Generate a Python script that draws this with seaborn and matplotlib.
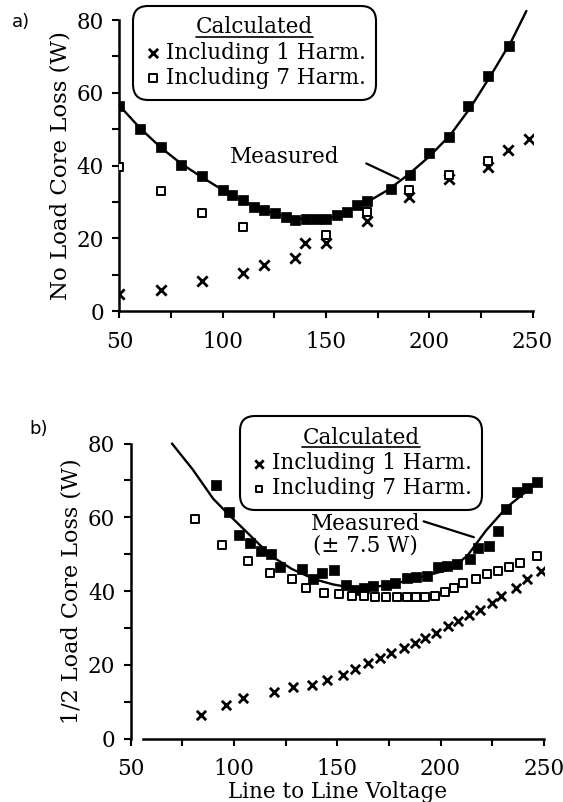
import matplotlib
matplotlib.use("Agg")
import matplotlib.pyplot as plt
import seaborn as sns
import pandas as pd
from matplotlib.lines import Line2D

# ---- panel a) no load ----
a_meas_v = [50, 60, 70, 80, 90, 100, 104.5, 110, 115, 120, 125.5, 130.5, 135, 140.5,
            145, 150, 155.5, 160, 165, 170, 181.5, 190.5, 200, 209.5, 218.5, 228.5, 238.5]
a_meas_w = [56.5, 50.1, 45.1, 40.3, 37.2, 33.4, 31.9, 30.5, 28.7, 27.8, 26.9, 25.8, 25.1, 25.2,
            25.2, 25.2, 26.4, 27.2, 29.2, 30.2, 33.5, 37.4, 43.6, 47.8, 56.5, 64.7, 72.9]
a_curve_v = [50, 60, 70, 80, 90, 100, 110, 120, 130, 140, 150, 160, 170, 180, 190, 200,
             210, 220, 230, 240, 247]
a_curve_w = [56.5, 50.3, 45.0, 40.5, 36.8, 33.3, 30.3, 27.8, 26.0, 25.2, 25.3, 27.0, 30.0, 33.3,
             37.6, 42.5, 48.3, 56.0, 65.0, 74.5, 82.5]
a_h1_v = [50, 70, 90, 110, 120, 135, 140, 150, 170, 190, 209.5, 228.5, 238, 248.5]
a_h1_w = [4.6, 5.9, 8.2, 10.5, 12.6, 14.6, 18.7, 18.7, 24.8, 31.4, 36.3, 39.6, 44.2, 47.4]
a_h7_v = [50, 70, 90, 110, 150, 170, 190, 209.5, 228.5]
a_h7_w = [39.6, 33.1, 27.1, 23.1, 21.0, 27.3, 33.3, 37.5, 41.3]

# ---- panel b) half load ----
b_meas_v = [91.3, 97.4, 102.3, 107.9, 113.1, 118, 122.2, 132.9, 138.5, 142.8, 148.6, 154.2,
            158.6, 162.9, 167.3, 173.4, 177.8, 183.9, 188.3, 193.5, 198.8, 203.1, 207.9,
            214.2, 218, 223.3, 227.6, 231.6, 237.2, 241.6, 246.9]
b_meas_w = [68.8, 61.4, 55.2, 53.0, 50.9, 50.0, 46.4, 45.9, 43.2, 45.0, 45.6, 41.6,
            40.2, 40.9, 41.4, 41.6, 42.1, 43.5, 43.8, 44.1, 46.4, 46.8, 47.3,
            48.6, 51.8, 52.3, 56.2, 62.3, 66.8, 67.9, 69.5]
b_curve_v = [70, 80, 90, 97, 108, 118, 128, 139, 148, 159, 175, 192, 205, 213, 222, 232, 247]
b_curve_w = [80.0, 73.0, 65.0, 61.0, 55.0, 49.5, 46.0, 43.2, 41.8, 40.7, 41.6, 44.0, 46.0,
             49.6, 56.4, 62.7, 69.5]
b_h1_v = [83.9, 96, 104.4, 119.2, 128.8, 137.6, 145.1, 153, 158.6, 164.7, 170.8, 176,
          182.2, 187.4, 192.7, 197.9, 203.7, 208.4, 213.6, 218.9, 225, 229.4, 236.4, 241.6, 248.6]
b_h1_w = [6.4, 9.1, 10.9, 12.7, 14.1, 14.5, 15.9, 17.3, 18.8, 20.5, 21.8, 23.2,
          24.5, 25.9, 27.3, 28.6, 30.5, 31.8, 33.6, 35.0, 36.8, 38.6, 40.9, 43.2, 45.5]
b_h7_v = [81.3, 94.2, 107, 117.5, 128, 135, 143.7, 150.7, 157.2, 162.9, 168.2, 173.4,
          178.7, 183.9, 188.3, 192.7, 197.4, 202.3, 206.6, 211, 217.1, 222.4, 227.6,
          232.9, 238.6, 246.9]
b_h7_w = [59.5, 52.5, 48.2, 45.0, 43.2, 40.9, 39.5, 39.1, 38.6, 38.6, 38.4, 38.4,
          38.4, 38.4, 38.4, 38.4, 38.6, 39.7, 40.9, 42.1, 43.2, 44.5, 45.5,
          46.4, 47.7, 49.5]

lbl_h1 = "Including 1 Harm."
lbl_h7 = "Including 7 Harm."

sns.set_style("ticks")
plt.rcParams['font.family'] = ['DejaVu Serif']
plt.rcParams['font.size'] = 15
for k in ['text.color', 'axes.labelcolor', 'xtick.color', 'ytick.color', 'axes.edgecolor']:
    plt.rcParams[k] = 'black'

fig = plt.figure(figsize=(5.63, 8.02), dpi=100)
ax1 = fig.add_axes([0.212, 0.612, 0.734, 0.363])
ax2 = fig.add_axes([0.232, 0.079, 0.734, 0.368])


def draw_panel(ax, cv, cw, mv, mw, h1v, h1w, h7v, h7w, msz):
    sns.lineplot(x=cv, y=cw, ax=ax, color='black', lw=1.7, sort=False,
                 estimator=None, clip_on=False)
    sns.scatterplot(x=mv, y=mw, ax=ax, marker='s', color='black', s=msz,
                    edgecolor='black', linewidth=0.5, zorder=3)
    sns.scatterplot(x=h1v, y=h1w, ax=ax, marker='x', color='black', s=msz,
                    linewidth=2.0, zorder=4, label=lbl_h1)
    sns.scatterplot(x=h7v, y=h7w, ax=ax, marker='s', facecolor='white', s=msz * 0.6,
                    edgecolor='black', linewidth=1.4, zorder=4, label=lbl_h7)
    ax.set_xlim(50, 250)
    ax.set_ylim(0, 80)
    ax.set_xticks([50, 100, 150, 200, 250])
    ax.set_xticks([75, 125, 175, 225], minor=True)
    ax.set_yticks([0, 20, 40, 60, 80])
    ax.set_yticks([10, 30, 50, 70], minor=True)
    ax.tick_params(which='both', direction='out', length=5, width=1.5, labelsize=15.5)
    ax.tick_params(axis='x', pad=9)
    ax.tick_params(axis='y', pad=6)
    sns.despine(ax=ax)
    for sp in ['left', 'bottom']:
        ax.spines[sp].set_linewidth(1.8)


draw_panel(ax1, a_curve_v, a_curve_w, a_meas_v, a_meas_w, a_h1_v, a_h1_w, a_h7_v, a_h7_w, 55)
draw_panel(ax2, b_curve_v, b_curve_w, b_meas_v, b_meas_w, b_h1_v, b_h1_w, b_h7_v, b_h7_w, 45)
ax2.spines['bottom'].set_bounds(56, 250)

ax1.set_xlabel("")
ax1.set_ylabel("No Load Core Loss (W)", fontsize=16.5, labelpad=4)
ax2.set_ylabel("1/2 Load Core Loss (W)", fontsize=16, labelpad=4)
ax2.set_xlabel("Line to Line Voltage", fontsize=15.5, labelpad=1)

legs = []
for ax, anchor in [(ax1, (0.044, 1.035)), (ax2, (0.274, 1.078))]:
    h, l = ax.get_legend_handles_labels()
    leg = ax.legend(h, l, title="Calculated", loc='upper left', bbox_to_anchor=anchor,
                    borderaxespad=0, frameon=True, fancybox=True, fontsize=15.5,
                    title_fontsize=15.5, handletextpad=0.2, handlelength=0.8,
                    borderpad=0.3, labelspacing=0.15, markerscale=0.9, framealpha=1)
    leg.get_frame().set_edgecolor('black')
    leg.get_frame().set_linewidth(1.5)
    leg.get_frame().set_boxstyle("round,pad=0.2,rounding_size=0.7")
    leg.set_zorder(5)
    legs.append(leg)

ax1.text(130, 42.5, "Measured", ha='center', va='center', fontsize=15.5)
ax1.annotate("", xy=(185.2, 36.4), xytext=(169.5, 40.6),
             arrowprops=dict(arrowstyle='-', lw=1.6, color='black', shrinkA=0, shrinkB=0))
ax2.text(163.5, 55.2, "Measured\n(± 7.5 W)", ha='center', va='center', fontsize=15.5,
         linespacing=1.0)
ax2.annotate("", xy=(216.1, 54.6), xytext=(191.8, 58.9),
             arrowprops=dict(arrowstyle='-', lw=1.6, color='black', shrinkA=0, shrinkB=0))

fig.text(0.021, 0.984, "a)", fontsize=13, family='DejaVu Sans', va='top')
fig.text(0.053, 0.476, "b)", fontsize=13, family='DejaVu Sans', va='top')

# underline the legend titles
fig.canvas.draw()
r = fig.canvas.get_renderer()
inv = fig.transFigure.inverted()
for leg in legs:
    bb = leg.get_title().get_window_extent(r)
    (x0, y0), (x1, _) = inv.transform([(bb.x0, bb.y0), (bb.x1, bb.y0)])
    fig.add_artist(Line2D([x0, x1], [y0 + 0.002, y0 + 0.002], color='black', lw=1.2,
                          zorder=10))

fig.savefig("out.png", dpi=100)
